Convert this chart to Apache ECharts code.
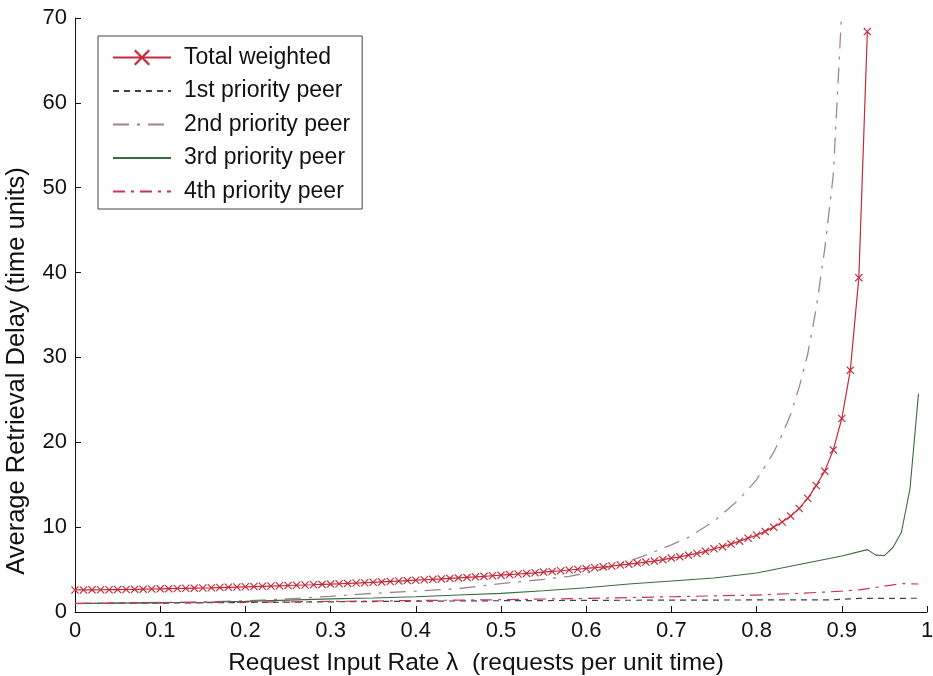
<!DOCTYPE html>
<html>
<head>
<meta charset="utf-8">
<script src="https://cdn.jsdelivr.net/npm/echarts@6/dist/echarts.min.js"></script>
<style>
html,body{margin:0;padding:0;background:#fff;}
#chart{width:933px;height:676px;}
</style>
</head>
<body>
<div id="chart"></div>
<script>
// Total weighted (markers at every 0.01 step)
const lambdaTotal = [0,0.01,0.02,0.03,0.04,0.05,0.06,0.07,0.08,0.09,
  0.10,0.11,0.12,0.13,0.14,0.15,0.16,0.17,0.18,0.19,
  0.20,0.21,0.22,0.23,0.24,0.25,0.26,0.27,0.28,0.29,
  0.30,0.31,0.32,0.33,0.34,0.35,0.36,0.37,0.38,0.39,
  0.40,0.41,0.42,0.43,0.44,0.45,0.46,0.47,0.48,0.49,
  0.50,0.51,0.52,0.53,0.54,0.55,0.56,0.57,0.58,0.59,
  0.60,0.61,0.62,0.63,0.64,0.65,0.66,0.67,0.68,0.69,
  0.70,0.71,0.72,0.73,0.74,0.75,0.76,0.77,0.78,0.79,
  0.80,0.81,0.82,0.83,0.84,0.85,0.86,0.87,0.88,0.89,
  0.90,0.91,0.92,0.93];
const delayTotal = [2.6,2.6,2.61,2.62,2.63,2.64,2.65,2.67,2.69,2.71,
  2.73,2.75,2.77,2.79,2.81,2.83,2.85,2.88,2.91,2.94,
  2.97,3.0,3.03,3.06,3.09,3.12,3.15,3.18,3.21,3.25,
  3.29,3.33,3.37,3.41,3.45,3.5,3.55,3.6,3.65,3.7,
  3.75,3.8,3.85,3.9,3.96,4.02,4.08,4.14,4.2,4.27,
  4.34,4.41,4.48,4.55,4.62,4.7,4.78,4.86,4.95,5.04,
  5.13,5.22,5.32,5.42,5.53,5.64,5.76,5.88,6.0,6.17,
  6.35,6.5,6.7,6.9,7.15,7.45,7.7,8.0,8.35,8.7,
  9.05,9.5,10.0,10.6,11.3,12.2,13.4,14.9,16.6,19.1,
  22.8,28.5,39.4,68.4];

// 1st priority peer
const lambda1 = [0,0.1,0.2,0.3,0.4,0.5,0.6,0.7,0.8,0.88,0.89,0.9,0.91,0.92,0.99];
const delay1  = [1.0,1.05,1.12,1.2,1.27,1.33,1.37,1.4,1.42,1.43,1.45,1.5,1.55,1.6,1.62];

// 2nd priority peer
const lambda2 = [0,0.05,0.1,0.15,0.2,0.25,0.3,0.35,0.4,0.45,0.5,0.55,0.58,0.6,0.62,0.65,0.67,0.7,0.72,0.75,0.78,0.8,0.82,0.83,0.84,0.85,0.86,0.87,0.88,0.89,0.9];
const delay2  = [1.0,1.05,1.12,1.2,1.32,1.55,1.85,2.2,2.45,2.75,3.35,3.85,4.2,4.6,5.1,6.0,6.7,7.9,8.8,10.7,13.3,15.6,18.8,20.9,23.3,26.5,30.4,35.8,42.8,51.5,71];

// 3rd priority peer
const lambda3 = [0,0.05,0.1,0.15,0.2,0.25,0.3,0.35,0.4,0.45,0.5,0.55,0.6,0.65,0.7,0.75,0.8,0.85,0.9,0.93,0.94,0.95,0.96,0.97,0.98,0.99];
const delay3  = [1.0,1.05,1.1,1.15,1.25,1.4,1.55,1.65,1.8,2.0,2.2,2.5,2.85,3.3,3.65,4.0,4.6,5.6,6.6,7.35,6.7,6.65,7.6,9.4,14.5,25.7];

// 4th priority peer
const lambda4 = [0,0.1,0.2,0.3,0.4,0.5,0.6,0.7,0.8,0.85,0.88,0.9,0.92,0.94,0.96,0.97,0.99];
const delay4  = [1.0,1.08,1.15,1.25,1.35,1.45,1.6,1.8,2.0,2.2,2.35,2.45,2.6,2.9,3.2,3.35,3.3];

const seriesNames = ['Total weighted','1st priority peer','2nd priority peer','3rd priority peer','4th priority peer'];
const xTicks = [0,0.1,0.2,0.3,0.4,0.5,0.6,0.7,0.8,0.9,1];
const yTicks = [0,10,20,30,40,50,60,70];

const pairs = (xs, ys) => xs.map((x, i) => [x, ys[i]]);
const crossPath = 'path://M0,1L1,0L5,4L9,0L10,1L6,5L10,9L9,10L5,6L1,10L0,9L4,5Z';
const FONT = '"Liberation Sans", Arial, sans-serif';
const hidden = {color: 'rgba(0,0,0,0)', opacity: 0, borderWidth: 0};

const chart = echarts.init(document.getElementById('chart'), null, {renderer: 'canvas'});
chart.setOption({
  backgroundColor: '#ffffff',
  animation: false,
  grid: {left: 75, right: 6, top: 18, bottom: 64, containLabel: false, outerBoundsMode: 'none'},
  legend: {
    orient: 'vertical',
    left: 98, top: 36,
    padding: [10, 12, 6, 14],
    backgroundColor: '#ffffff',
    borderColor: '#444',
    borderWidth: 1,
    itemWidth: 58,
    itemHeight: 20,
    itemGap: 10.5,
    textStyle: {fontFamily: FONT, fontSize: 23, color: '#111', padding: [0,0,0,8], lineHeight: 21},
    data: [
      {name: seriesNames[0]},
      {name: seriesNames[1], itemStyle: hidden},
      {name: seriesNames[2], itemStyle: hidden},
      {name: seriesNames[3], itemStyle: hidden},
      {name: seriesNames[4], itemStyle: hidden}
    ]
  },
  xAxis: {
    type: 'value', min: 0, max: 1, interval: 0.1,
    name: 'Request Input Rate \u03bb  (requests per unit time)',
    nameLocation: 'middle', nameGap: 39,
    nameTextStyle: {fontFamily: FONT, fontSize: 24.5, color: '#111', padding: [0, 50, 0, 0]},
    axisLine: {lineStyle: {color: '#111', width: 1}},
    axisTick: {inside: true, length: 6, lineStyle: {color: '#111'}},
    axisLabel: {fontFamily: FONT, fontSize: 22, color: '#111', margin: 8,
      formatter: v => String(Math.round(v * 10) / 10)},
    splitLine: {show: false}
  },
  yAxis: {
    type: 'value', min: 0, max: 70, interval: 10,
    name: 'Average Retrieval Delay (time units)',
    nameLocation: 'middle', nameGap: 45,
    nameTextStyle: {fontFamily: FONT, fontSize: 25.5, color: '#111', padding: [0, 112, 0, 0]},
    axisLine: {show: true, lineStyle: {color: '#111', width: 1}},
    axisTick: {show: true, inside: true, length: 6, lineStyle: {color: '#111'}},
    axisLabel: {fontFamily: FONT, fontSize: 22, color: '#111', margin: 8},
    splitLine: {show: false}
  },
  series: [
    {
      name: seriesNames[0], type: 'line', data: pairs(lambdaTotal, delayTotal),
      symbol: crossPath, symbolSize: 8, showAllSymbol: true,
      itemStyle: {color: '#c42a3a'},
      lineStyle: {color: '#c42a3a', width: 1.2},
      z: 5
    },
    {
      name: seriesNames[1], type: 'line', data: pairs(lambda1, delay1),
      symbol: 'none',
      itemStyle: {color: '#3c3f5c'},
      lineStyle: {color: '#3c3f5c', width: 1.2, type: [6, 5]}
    },
    {
      name: seriesNames[2], type: 'line', data: pairs(lambda2, delay2),
      symbol: 'none',
      itemStyle: {color: '#a08590'},
      lineStyle: {color: '#a08590', width: 1.3, type: [16, 8, 3, 8]}
    },
    {
      name: seriesNames[3], type: 'line', data: pairs(lambda3, delay3),
      symbol: 'none',
      itemStyle: {color: '#3d6b3d'},
      lineStyle: {color: '#3d6b3d', width: 1.1}
    },
    {
      name: seriesNames[4], type: 'line', data: pairs(lambda4, delay4),
      symbol: 'none',
      itemStyle: {color: '#cc3355'},
      lineStyle: {color: '#cc3355', width: 1.2, type: [12, 6, 3, 6]}
    }
  ]
});
</script>
</body>
</html>
